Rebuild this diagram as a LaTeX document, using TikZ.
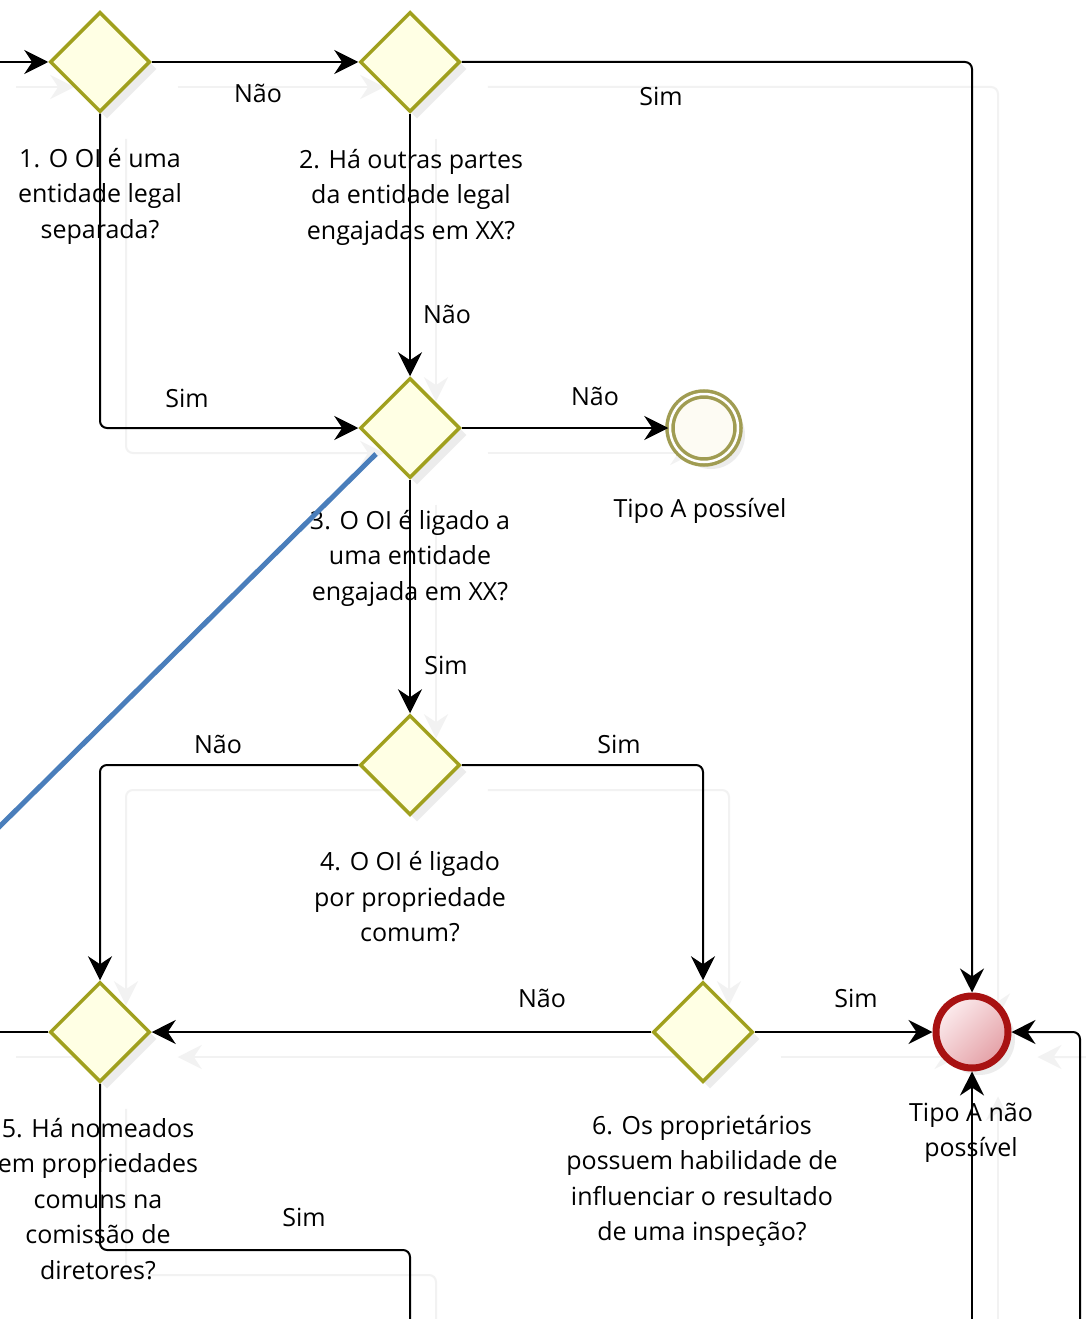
\documentclass[tikz,border=0pt]{standalone}
\usepackage{fontspec}
\setmainfont{Open Sans}
\usetikzlibrary{shapes.geometric,arrows.meta,shadows,calc}
\definecolor{gwline}{RGB}{160,160,30}
\definecolor{gwfill}{RGB}{255,255,228}
\definecolor{ealine}{RGB}{160,156,82}
\definecolor{eafill}{RGB}{253,251,243}
\definecolor{ebline}{RGB}{168,18,18}
\definecolor{ebfillA}{RGB}{252,236,238}
\definecolor{ebfillB}{RGB}{228,160,166}
\definecolor{blueline}{RGB}{74,126,187}
\definecolor{ghostc}{RGB}{242,242,242}
\pgfdeclarelayer{bg}
\pgfsetlayers{bg,main}
\tikzset{
  gw/.style={diamond, draw=gwline, fill=gwfill, line width=3.5pt,
    minimum width=100pt, minimum height=100pt, inner sep=0pt,
    drop shadow={shadow xshift=7pt, shadow yshift=-7pt, opacity=.15}},
  enda/.style={circle, draw=ealine, line width=3.5pt, double=white, double distance=2.5pt,
    fill=eafill, minimum size=68pt, inner sep=0pt,
    drop shadow={shadow xshift=7pt, shadow yshift=-7pt, opacity=.15}},
  endb/.style={circle, draw=ebline, line width=7pt, minimum size=72pt, inner sep=0pt,
    top color=ebfillA, bottom color=ebfillB, shading angle=45,
    drop shadow={shadow xshift=7pt, shadow yshift=-7pt, opacity=.15}},
  lbl/.style={inner sep=0pt, align=center, font=\fontsize{25}{35.5}\selectfont},
  flow/.style={line width=2pt, rounded corners=7pt},
  arr/.style={-{Stealth[length=24pt,width=24pt,inset=8pt]}},
}
\newcommand\drawflows[1]{%
  \draw[flow,arr,#1] (in1) -- (G1.west);
  \draw[flow,arr,#1] (G1.east) -- (G2.west);
  \draw[flow,arr,#1] (G2.east) -| (E2.north);
  \draw[flow,arr,#1] (G1.south) |- (G3.west);
  \draw[flow,arr,#1] (G2.south) -- (G3.north);
  \draw[flow,arr,#1] (G3.east) -- (E1.west);
  \draw[flow,arr,#1] (G3.south) -- (G4.north);
  \draw[flow,arr,#1] (G4.west) -| (G5.north);
  \draw[flow,arr,#1] (G4.east) -| (G6.north);
  \draw[flow,arr,#1] (G6.west) -- (G5.east);
  \draw[flow,arr,#1] (G6.east) -- (E2.west);
  \draw[flow,#1] (G5.west) -- (w5);
  \draw[flow,#1] (G5.south) |- (s5a) -- (s5b);
  \draw[flow,arr,#1] (b1) -- (E2.south);
  \draw[flow,arr,#1] (b2) |- (E2.east);
}
\begin{document}
\begin{tikzpicture}[x=1pt,y=-1pt]
\begin{pgfonlayer}{bg}
\fill[white] (0,0) rectangle (1086,1319);
\end{pgfonlayer}
\useasboundingbox (0,0) rectangle (1086,1319);
\clip (0,0) rectangle (1086,1319);

% gateways and events
\node[gw] (G1) at (100,62) {};
\node[gw] (G2) at (410,62) {};
\node[gw] (G3) at (410,428) {};
\node[enda] (E1) at (704,428) {};
\node[gw] (G4) at (410,765) {};
\node[gw] (G5) at (100,1032) {};
\node[gw] (G6) at (703,1032) {};
\node[endb] (E2) at (972,1032) {};

% free ends
\coordinate (in1) at (-10,62);
\coordinate (w5) at (-10,1032);
\coordinate (s5a) at (410,1250);
\coordinate (s5b) at (410,1340);
\coordinate (b1) at (972,1340);
\coordinate (b2) at (1080,1340);
\coordinate (bl1) at (376,454);
\coordinate (bl2) at (-10,836);

% faint ghost copy behind
\begin{pgfonlayer}{bg}
\begin{scope}[transform canvas={shift={(26pt,-25pt)}}]
\drawflows{ghostc}
\end{scope}
\end{pgfonlayer}

% texts
\node[lbl] (t1) at (100,196) {1. O OI é uma\\entidade legal\\separada?};
\node[lbl] (t2) at (411,197) {2. Há outras partes\\da entidade legal\\engajadas em XX?};
\node[lbl] (t3) at (410,558) {3. O OI é ligado a\\uma entidade\\engajada em XX?};
\node[lbl] (t4) at (410,897) {4. O OI é ligado\\por propriedade\\comum?};
\node[lbl] (t5) at (98,1199) {5. Há nomeados\\em propriedades\\comuns na\\comissão de\\diretores?};
\node[lbl] (t6) at (702,1181) {6. Os proprietários\\possuem habilidade de\\influenciar o resultado\\de uma inspeção?};
\node[lbl] (te1) at (700,511) {Tipo A possível};
\node[lbl] (te2) at (971,1133) {Tipo A não\\possível};

% flow labels
\node[lbl] (l1) at (258,93) {Não};
\node[lbl] (l2) at (661,96) {Sim};
\node[lbl] (l3) at (187,398) {Sim};
\node[lbl] (l4) at (447,314) {Não};
\node[lbl] (l5) at (595,396) {Não};
\node[lbl] (l6) at (446,665) {Sim};
\node[lbl] (l7) at (218,744) {Não};
\node[lbl] (l8) at (619,744) {Sim};
\node[lbl] (l9) at (542,998) {Não};
\node[lbl] (l10) at (856,998) {Sim};
\node[lbl] (l11) at (304,1217) {Sim};

% connectors
\drawflows{black}

% blue annotation line
\draw[blueline, line width=5pt] (bl1) -- (bl2);
\end{tikzpicture}
\end{document}
